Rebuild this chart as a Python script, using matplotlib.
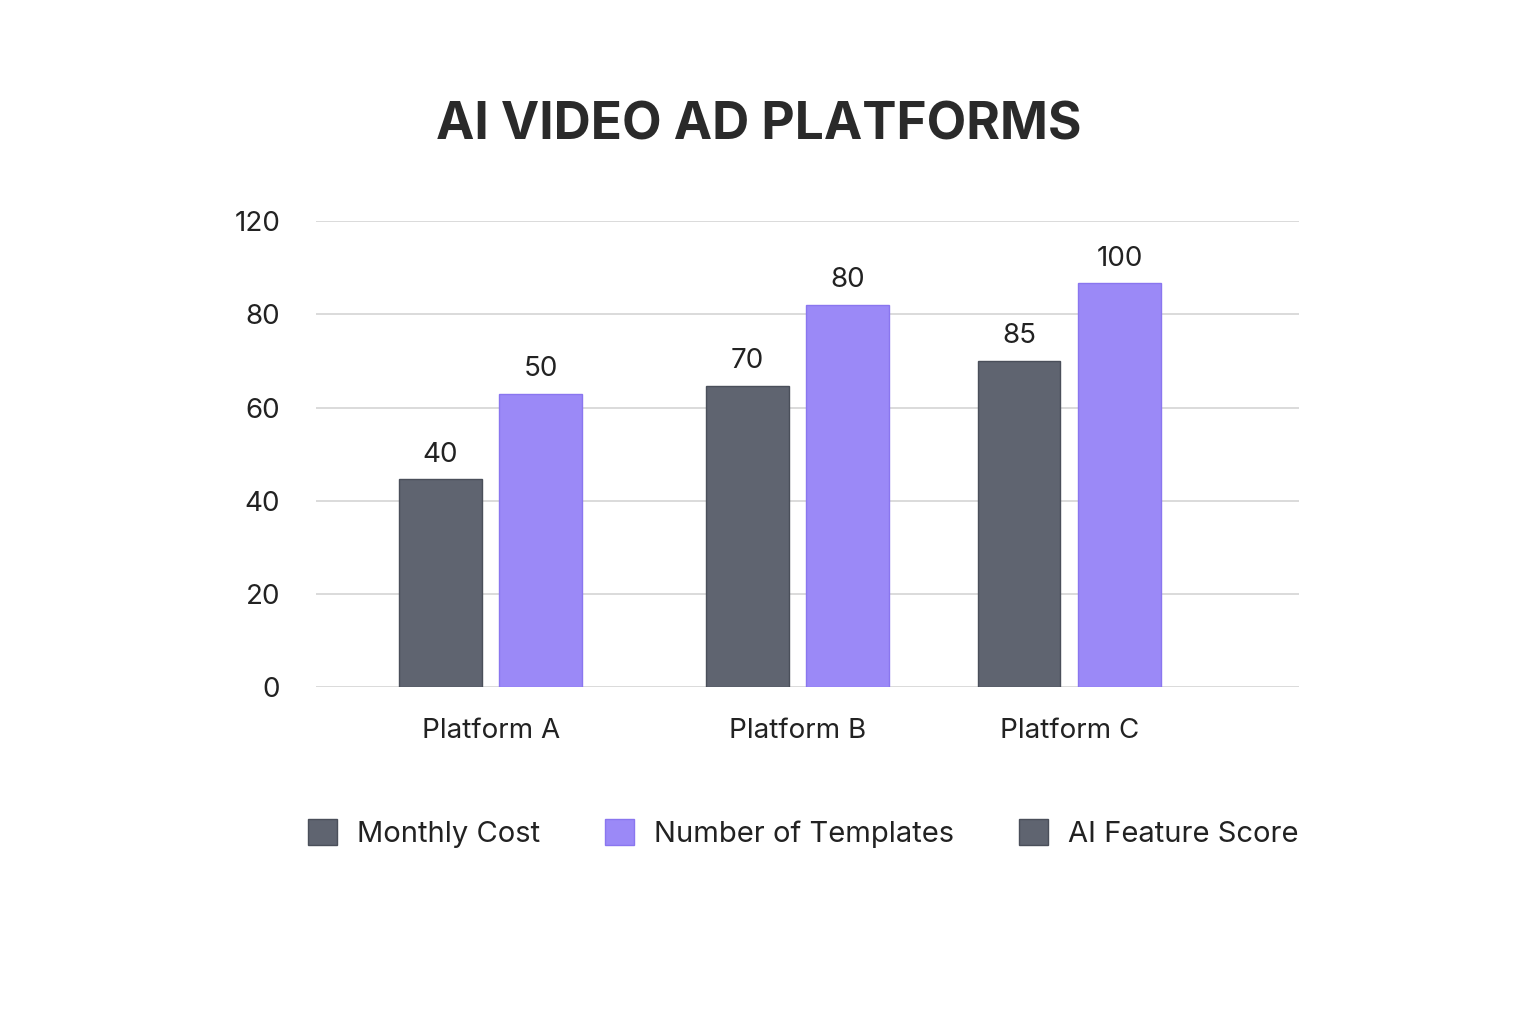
import matplotlib
matplotlib.use("Agg")
import matplotlib.pyplot as plt
from matplotlib.patches import Patch

categories = ["Platform A", "Platform B", "Platform C"]
monthly_cost_heights = [44.6, 64.6, 70.0]
templates_heights = [62.9, 82.0, 86.7]
monthly_cost_labels = ["40", "70", "85"]
templates_labels = ["50", "80", "100"]
ytick_values = [0, 20, 40, 60, 80, 100]
ytick_labels = ["0", "20", "40", "60", "80", "120"]
legend_labels = ["Monthly Cost", "Number of Templates", "AI Feature Score"]

gray = "#5f6470"
purple = "#9b89f7"
plt.rcParams["font.family"] = "Inter"

fig = plt.figure(figsize=(15.36, 10.24), dpi=100)
fig.patch.set_facecolor("white")
ax = fig.add_axes([0.206, 0.329, 0.64, 0.455])
xs = [0, 1.04, 1.96]
off = 0.17
w = 0.28
b1 = ax.bar([x - off for x in xs], monthly_cost_heights, w, color=gray, edgecolor="#4a4f5a", linewidth=1)
b2 = ax.bar([x + off for x in xs], templates_heights, w, color=purple, edgecolor="#8a76ef", linewidth=1)
for bars, labs in ((b1, monthly_cost_labels), (b2, templates_labels)):
    for r, t in zip(bars, labs):
        ax.text(r.get_x() + r.get_width() / 2, r.get_height() + 2.5, t, ha="center", va="bottom",
                fontsize=20, color="#222222", clip_on=False)
ax.set_xlim(-0.59, 2.74)
ax.set_ylim(0, 100)
ax.set_yticks(ytick_values)
ax.set_yticklabels(ytick_labels, fontsize=20, color="#222222")
ax.set_xticks(xs)
ax.set_xticklabels(categories, fontsize=20, color="#222222")
ax.tick_params(length=0, axis="y", pad=26)
ax.tick_params(length=0, axis="x", pad=22)
ax.grid(axis="y", color="#d4d4d4", linewidth=1.2)
ax.set_axisbelow(True)
for s in ax.spines.values():
    s.set_visible(False)
fig.text(0.494, 0.877, "AI VIDEO AD PLATFORMS", ha="center", va="center", fontsize=37,
         fontweight="bold", color="#2a2a2a")
handles = [Patch(facecolor=gray, edgecolor="#4a4f5a"), Patch(facecolor=purple, edgecolor="#8a76ef"),
           Patch(facecolor=gray, edgecolor="#4a4f5a")]
fig.legend(handles, legend_labels, loc="center", bbox_to_anchor=(0.523, 0.186), ncol=3, frameon=False,
           fontsize=21, handlelength=1.0, handleheight=1.0, columnspacing=2.2, handletextpad=0.7,
           labelcolor="#222222")
fig.savefig("out.png", dpi=100)
